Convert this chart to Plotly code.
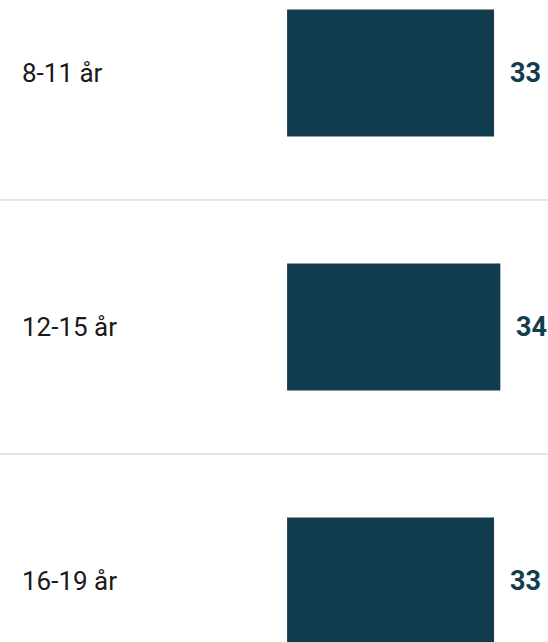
import plotly.graph_objects as go

categories = ["8-11 år", "12-15 år", "16-19 år"]
values = [33, 34, 33]

bar_color = "#123d4f"
positions = list(range(len(categories)))

fig = go.Figure()

fig.add_trace(go.Bar(
    x=values,
    y=positions,
    orientation="h",
    width=0.5,
    marker=dict(color=bar_color, line=dict(width=0)),
    hoverinfo="skip",
    showlegend=False,
))

# category labels on the left, left aligned
for pos, cat in zip(positions, categories):
    fig.add_annotation(
        x=20 / 548, xref="paper", y=pos, yref="y",
        text=cat, showarrow=False, xanchor="left", yanchor="middle",
        font=dict(family="Roboto", size=26, color="#1a1a1a"),
    )

# value labels after the bars
for pos, val in zip(positions, values):
    fig.add_annotation(
        x=val, xref="x", y=pos, yref="y",
        text=f"<b>{val}</b>", showarrow=False, xanchor="left", yanchor="middle",
        xshift=14,
        font=dict(family="Roboto", size=27, color=bar_color),
    )

# separators between rows
for k in range(len(categories) - 1):
    fig.add_shape(
        type="line", xref="paper", x0=0, x1=1, yref="y", y0=k + 0.5, y1=k + 0.5,
        line=dict(color="#cccccc", width=1),
    )

fig.update_xaxes(range=[-45.77, 41.6], visible=False, fixedrange=True)
fig.update_yaxes(range=[2.24, -0.287], visible=False, fixedrange=True)

fig.update_layout(
    width=548, height=642,
    margin=dict(l=0, r=0, t=0, b=0),
    plot_bgcolor="white", paper_bgcolor="white",
    font=dict(family="Roboto"),
)

fig.write_html(
    "out.html",
    config={"displayModeBar": False},
    post_script="document.body.style.margin='0';",
)
